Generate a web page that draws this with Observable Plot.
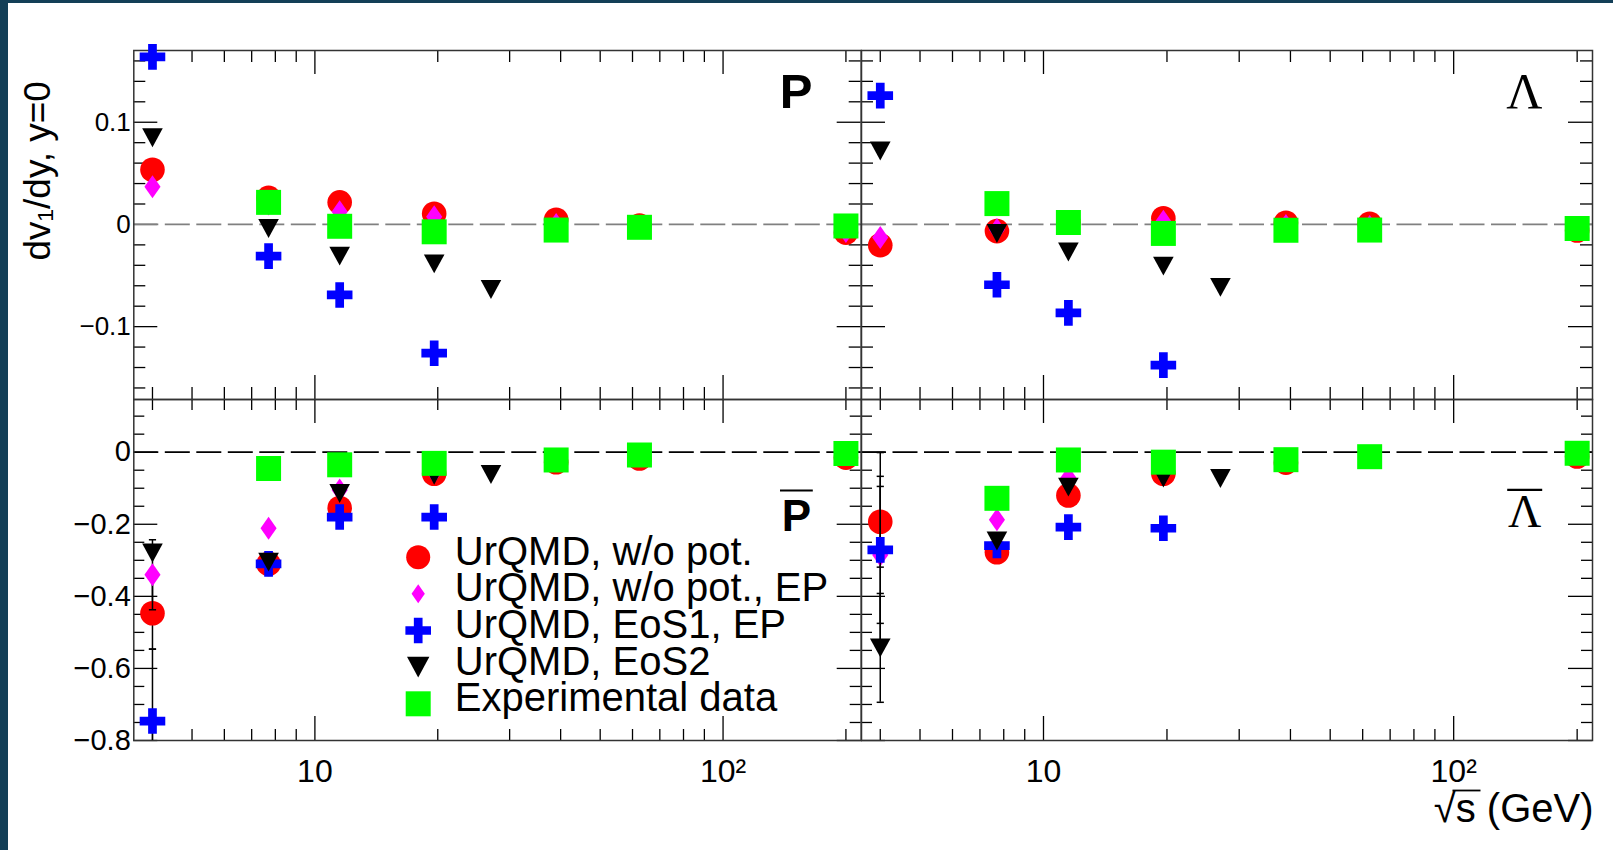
<!DOCTYPE html>
<html>
<head>
<meta charset="utf-8">
<script src="https://cdn.jsdelivr.net/npm/d3@7"></script>
<script src="https://cdn.jsdelivr.net/npm/@observablehq/plot@0.6"></script>
<style>
  html, body { margin: 0; padding: 0; background: #fff; }
  #figure { position: relative; width: 1613px; height: 850px; background: #fff; overflow: hidden; }
  #figure svg { position: absolute; left: 0; top: 0; background: transparent; overflow: visible;
                font-family: 'Liberation Sans', Arial, Helvetica, sans-serif; }
  .edge-left { position: absolute; left: 0; top: 0; width: 8px; height: 850px; background: #133f57; }
  .edge-top { position: absolute; left: 0; top: 0; width: 1613px; height: 3px; background: #133f57; }
</style>
</head>
<body>
<div id="figure"><div class="edge-left"></div><div class="edge-top"></div></div>
<script>
// Collision energies √s (GeV)
const energies = [4.0, 7.7, 11.5, 19.6, 27, 39, 62.4, 200];

// Series (drawing order)
const seriesNames = ["UrQMD, w/o pot.", "UrQMD, w/o pot., EP", "UrQMD, EoS1, EP", "UrQMD, EoS2", "Experimental data"];
const seriesColors = ["#ff0000", "#ff00ff", "#0000ff", "#000000", "#00ff00"];

// dv1/dy at y=0 — protons
const protonWoPot   = [0.0535, 0.026, 0.0216, 0.0105, null, 0.0046, -0.001, -0.008];
const protonWoPotEP = [0.037, 0.02, 0.0125, 0.0076, null, 0.0, null, -0.007];
const protonEoS1EP  = [0.164, -0.031, -0.069, -0.126, null, null, null, null];
const protonEoS2    = [0.0848, -0.004, -0.031, -0.0386, -0.0637, null, null, null];
const protonExp     = [null, 0.0216, -0.0018, -0.0072, null, -0.0055, -0.0028, -0.0015];

// Lambda
const lambdaWoPot   = [-0.0203, -0.0065, 0.0019, 0.006, null, 0.0017, 0.0007, -0.006];
const lambdaWoPotEP = [-0.0128, -0.005, 0.0015, 0.003, null, -0.001, -0.002, null];
const lambdaEoS1EP  = [0.126, -0.059, -0.0865, -0.1377, null, null, null, null];
const lambdaEoS2    = [0.0718, -0.0088, -0.027, -0.0408, -0.0616, null, null, null];
const lambdaExp     = [null, 0.0204, 0.0019, -0.0088, null, -0.0057, -0.0055, -0.004];

// Antiprotons
const pbarWoPot   = [-0.447, -0.31, -0.155, -0.06, null, -0.028, -0.0175, -0.015];
const pbarWoPotEP = [-0.34, -0.211, -0.105, -0.055, null, null, null, null];
const pbarEoS1EP  = [-0.746, -0.31, -0.18, -0.18, null, null, null, null];
const pbarEoS2    = [-0.28, -0.305, -0.1146, -0.064, -0.062, null, null, null];
const pbarExp     = [null, -0.0452, -0.035, -0.031, null, -0.0216, -0.0078, -0.0036];
// statistical errors at the lowest energy, per series
const pbarErrLowest = [0.1, 0.097, 0.2, null, null];

// Anti-Lambda
const lbarWoPot   = [-0.193, -0.2775, -0.12, -0.06, null, -0.029, null, -0.012];
const lbarWoPotEP = [-0.285, -0.1877, -0.071, -0.055, null, null, null, null];
const lbarEoS1EP  = [-0.271, -0.259, -0.208, -0.211, null, null, null, null];
const lbarEoS2    = [-0.543, -0.2464, -0.097, -0.0716, -0.073, null, null, null];
const lbarExp     = [null, -0.128, -0.0216, -0.0277, null, -0.0208, -0.0125, -0.003];
const lbarErrLowest = [0.126, 0.19, 0.27, 0.151, null];

// Axis ticks and labels
const xMajorTicks = [10, 100];
const xMinorTicks = [4, 5, 6, 7, 8, 9, 20, 30, 40, 50, 60, 70, 80, 90, 200];
const xTickLabels = ["10", "10²"];
const yMajorTop = [-0.1, 0, 0.1];
const yLabelsTop = ["−0.1", "0", "0.1"];
const yMinorTop = [-0.16, -0.14, -0.12, -0.08, -0.06, -0.04, -0.02, 0.02, 0.04, 0.06, 0.08, 0.12, 0.14, 0.16];
const yMajorBottom = [-0.8, -0.6, -0.4, -0.2, 0];
const yLabelsBottom = ["−0.8", "−0.6", "−0.4", "−0.2", "0"];
const yMinorBottom = [-0.75, -0.7, -0.65, -0.55, -0.5, -0.45, -0.35, -0.3, -0.25, -0.15, -0.1, -0.05, 0.05, 0.1];

const yTitle = "dv₁/dy, y=0";
const xTitle = "√s (GeV)";

// Marker shapes (size = π r²)
const rOf = size => Math.sqrt(size / Math.PI);
const diamondSym = { draw(ctx, size) { const r = rOf(size), w = 0.7 * r;
  ctx.moveTo(0, -r); ctx.lineTo(w, 0); ctx.lineTo(0, r); ctx.lineTo(-w, 0); ctx.closePath(); } };
const crossSym = { draw(ctx, size) { const r = rOf(size), t = 0.34 * r;
  ctx.moveTo(-r, -t); ctx.lineTo(-t, -t); ctx.lineTo(-t, -r); ctx.lineTo(t, -r); ctx.lineTo(t, -t);
  ctx.lineTo(r, -t); ctx.lineTo(r, t); ctx.lineTo(t, t); ctx.lineTo(t, r); ctx.lineTo(-t, r);
  ctx.lineTo(-t, t); ctx.lineTo(-r, t); ctx.closePath(); } };
const downTriSym = { draw(ctx, size) { const r = rOf(size), h = 0.92 * r;
  ctx.moveTo(-r, -h); ctx.lineTo(r, -h); ctx.lineTo(0, h); ctx.closePath(); } };
const squareSym = { draw(ctx, size) { const r = rOf(size); ctx.rect(-r, -r, 2 * r, 2 * r); } };
// horizontal segment: error-bar caps and overbars
const hbarSym = { draw(ctx, size) { const r = rOf(size); ctx.moveTo(-r, 0); ctx.lineTo(r, 0); } };

const seriesSymbols = ["circle", diamondSym, crossSym, downTriSym, squareSym];
const seriesRadius = [12.3, 11.5, 12.8, 10.3, 12.5];
const legendRadius = [12, 9.5, 12.8, 11.2, 12.5];

const SANS = "'Liberation Sans', Arial, Helvetica, sans-serif";
const SERIF = "'Liberation Serif', 'Times New Roman', serif";

const W = 1613, H = 850;
const columns = [[133.3, 860.7], [861, 1592]];
const rowsPx = [[50, 399], [399, 740]];
const xDomain = [3.6, 218];
const yDomains = [[-0.1713, 0.1702], [-0.8, 0.1462]];

// label offsets: dx from the frame's right edge, dy = baseline below the frame's top
const panels = [
  { col: 0, row: 0, series: [protonWoPot, protonWoPotEP, protonEoS1EP, protonEoS2, protonExp], errs: null,
    label: { text: "P", fontSize: 49, fontWeight: "bold", fontFamily: SANS, dx: -65.2, dy: 57.3 } },
  { col: 1, row: 0, series: [lambdaWoPot, lambdaWoPotEP, lambdaEoS1EP, lambdaEoS2, lambdaExp], errs: null,
    label: { text: "Λ", fontSize: 50, fontWeight: "normal", fontFamily: SERIF, dx: -68.2, dy: 57.3 } },
  { col: 0, row: 1, series: [pbarWoPot, pbarWoPotEP, pbarEoS1EP, pbarEoS2, pbarExp], errs: pbarErrLowest,
    label: { text: "P", fontSize: 44, fontWeight: "bold", fontFamily: SANS, dx: -64.8, dy: 131,
             bar: { halfWidth: 16.4, rise: 40 } } },
  { col: 1, row: 1, series: [lbarWoPot, lbarWoPotEP, lbarEoS1EP, lbarEoS2, lbarExp], errs: lbarErrLowest,
    label: { text: "Λ", fontSize: 46, fontWeight: "normal", fontFamily: SERIF, dx: -67.8, dy: 127.7,
             bar: { halfWidth: 17.5, rise: 37.4 } } }
];

function drawPanel(p) {
  const [x0, x1] = columns[p.col];
  const [y0, y1] = rowsPx[p.row];
  const fw = x1 - x0, fh = y1 - y0;
  const top = p.row === 0;
  const majLen = 24, minLen = top ? 12 : 11;
  const yMajor = top ? yMajorTop : yMajorBottom;
  const yMinor = top ? yMinorTop : yMinorBottom;
  const tickStyle = { stroke: "#000", strokeWidth: 1.3 };

  const marks = [
    // ticks on all four sides, pointing inward
    Plot.tickX(xMajorTicks, { ...tickStyle, insetBottom: fh - majLen }),
    Plot.tickX(xMajorTicks, { ...tickStyle, insetTop: fh - majLen }),
    Plot.tickX(xMinorTicks, { ...tickStyle, insetBottom: fh - minLen }),
    Plot.tickX(xMinorTicks, { ...tickStyle, insetTop: fh - minLen }),
    Plot.tickY(yMajor, { ...tickStyle, insetRight: fw - majLen }),
    Plot.tickY(yMajor, { ...tickStyle, insetLeft: fw - majLen }),
    Plot.tickY(yMinor, { ...tickStyle, insetRight: fw - minLen }),
    Plot.tickY(yMinor, { ...tickStyle, insetLeft: fw - minLen }),
    Plot.ruleY([0], { stroke: top ? "#808080" : "#000", strokeWidth: 1.8, strokeDasharray: "25,6.5" }),
    Plot.frame({ stroke: "#333", strokeWidth: 1.5 })
  ];

  if (p.col === 0) {
    const labels = top ? yLabelsTop : yLabelsBottom;
    marks.push(Plot.axisY(yMajor, { anchor: "left", tickSize: 0, tickPadding: 3, label: null,
      fontSize: top ? 26 : 29, tickFormat: d => labels[yMajor.indexOf(d)] }));
  }
  if (!top) {
    marks.push(Plot.axisX(xMajorTicks, { anchor: "bottom", tickSize: 0, tickPadding: 18.3, label: null,
      fontSize: 32, tickFormat: d => xTickLabels[xMajorTicks.indexOf(d)] }));
  }

  // data series, drawn in order; error bars before each series' markers
  p.series.forEach((values, s) => {
    const pts = energies.map((e, i) => ({ e, v: values[i] })).filter(d => d.v != null);
    if (p.errs && p.errs[s] != null && values[0] != null) {
      const bar = [{ e: energies[0], v: values[0], err: p.errs[s] }];
      const caps = bar.flatMap(d => [{ e: d.e, y: d.v - d.err }, { e: d.e, y: d.v + d.err }]);
      marks.push(Plot.ruleX(bar, { x: "e", y1: d => d.v - d.err, y2: d => d.v + d.err,
        stroke: "#000", strokeWidth: 1.5, clip: true }));
      marks.push(Plot.dot(caps, { x: "e", y: "y", symbol: hbarSym, r: 3.6, stroke: "#000",
        strokeWidth: 1.5, fill: "none", clip: true }));
    }
    marks.push(Plot.dot(pts, { x: "e", y: "v", symbol: seriesSymbols[s], r: seriesRadius[s],
      fill: seriesColors[s], stroke: "none" }));
  });

  // particle label (with an overbar for antiparticles)
  const L = p.label;
  marks.push(Plot.text([L.text], { frameAnchor: "top-right", dx: L.dx, dy: L.dy, textAnchor: "middle",
    lineAnchor: "bottom", fontSize: L.fontSize, fontWeight: L.fontWeight, fontFamily: L.fontFamily,
    fill: "#000" }));
  if (L.bar) {
    marks.push(Plot.dot([L.text], { frameAnchor: "top-right", dx: L.dx, dy: L.dy - L.bar.rise,
      symbol: hbarSym, r: L.bar.halfWidth, stroke: "#000", strokeWidth: 2.2, fill: "none" }));
  }

  // legend inside the antiproton panel
  if (p.col === 0 && !top) {
    seriesNames.forEach((name, i) => {
      const cy = 157.7 + i * 36.65;
      marks.push(Plot.dot([name], { frameAnchor: "top-left", dx: 284.4, dy: cy, symbol: seriesSymbols[i],
        r: legendRadius[i], fill: seriesColors[i], stroke: "none" }));
      marks.push(Plot.text([name], { frameAnchor: "top-left", dx: 321, dy: cy + 7.4, text: d => d,
        textAnchor: "start", lineAnchor: "bottom", fontSize: 40, fill: "#000" }));
    });
  }

  if (p.col === 0 && top) {
    marks.push(Plot.text([yTitle], { frameAnchor: "top-left", dx: -84.3, dy: 210, rotate: -90,
      textAnchor: "start", lineAnchor: "bottom", fontSize: 37, fill: "#000", ariaLabel: "y-title" }));
  }
  if (p.col === 1 && !top) {
    marks.push(Plot.text([xTitle], { frameAnchor: "bottom-right", dx: 1, dy: 81.7, textAnchor: "end",
      lineAnchor: "bottom", fontSize: 40, fill: "#000" }));
    // vinculum of the square root, over the "s"
    marks.push(Plot.dot([xTitle], { frameAnchor: "bottom-right", dx: -126, dy: 50,
      symbol: hbarSym, r: 14, stroke: "#000", strokeWidth: 1.8, fill: "none" }));
  }

  const svg = Plot.plot({
    width: W, height: H,
    marginLeft: x0, marginRight: W - x1, marginTop: y0, marginBottom: H - y1,
    x: { type: "log", domain: xDomain, axis: null, label: null },
    y: { domain: yDomains[p.row], axis: null, label: null },
    marks
  });
  document.getElementById("figure").append(svg);
}

panels.forEach(drawPanel);

// y title: stretched along its length
d3.selectAll('g[aria-label="y-title"] text')
  .attr("textLength", 208).attr("lengthAdjust", "spacingAndGlyphs");
</script>
</body>
</html>
